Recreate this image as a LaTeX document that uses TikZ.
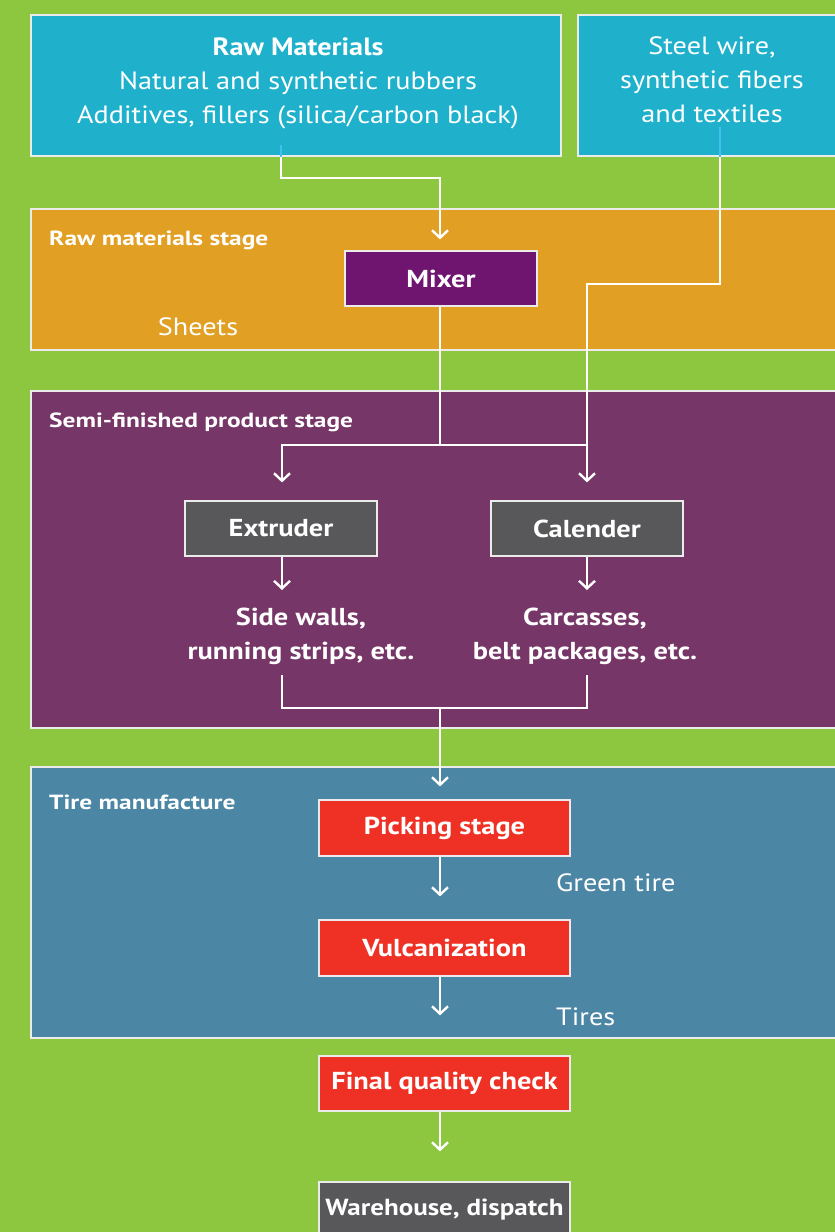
\documentclass[tikz,border=0pt]{standalone}
\usepackage{fontspec}
\setmainfont{PT Sans}[FakeStretch=1.13]
\newfontfamily\boxfont{PT Sans}[FakeStretch=1.16]
\newfontfamily\bandfont{PT Sans}[FakeStretch=1.24]
\usetikzlibrary{arrows.meta,calc}
\definecolor{bggreen}{RGB}{141,198,63}
\definecolor{cyanbox}{RGB}{31,177,204}
\definecolor{orangeband}{RGB}{225,160,35}
\definecolor{mixerpurple}{RGB}{111,21,112}
\definecolor{semipurple}{RGB}{118,54,103}
\definecolor{greybox}{RGB}{88,88,90}
\definecolor{blueband}{RGB}{75,134,165}
\definecolor{redbox}{RGB}{238,49,36}
\definecolor{lightblue}{RGB}{64,192,240}
\definecolor{edge}{RGB}{235,235,235}
\tikzset{
  band/.style={draw=edge, line width=1.2pt, minimum width=818pt, inner sep=0pt},
  source/.style={draw=edge, line width=1.2pt, fill=cyanbox, minimum height=141pt, inner sep=0pt},
  sourcetext/.style={text=white, inner sep=0pt, align=center, font=\fontsize{25}{34}\selectfont},
  machine/.style={draw=edge, line width=1.2pt, text=white, inner sep=0pt,
    font=\boxfont\bfseries\fontsize{24.5}{30}\selectfont},
  bandlabel/.style={text=white, anchor=west, inner sep=0pt, font=\bandfont\bfseries\fontsize{20.5}{24}\selectfont},
  plainlabel/.style={text=white, inner sep=0pt, font=\fontsize{25}{32}\selectfont},
  prodlabel/.style={text=white, inner sep=0pt, align=center, font=\boxfont\bfseries\fontsize{24.5}{34}\selectfont},
  link/.style={draw=white, line width=2.4pt},
  arr/.style={link, -{Straight Barb[length=7.5pt,width=16pt]}},
  bluelink/.style={draw=lightblue, line width=2.4pt}
}
\begin{document}
\begin{tikzpicture}[x=1pt,y=-1pt]
\useasboundingbox (0,0) rectangle (835,1232);
\fill[bggreen] (0,0) rectangle (835,1232);
% top source boxes
\node[source, minimum width=530pt] (raw) at (296,85.5) {};
\node[sourcetext] (rawtext) at (298,83)
  {\textbf{Raw Materials}\\Natural and synthetic rubbers\\Additives, fillers (silica/carbon black)};
\node[source, minimum width=268pt] (steel) at (712,85.5) {};
\node[sourcetext] (steeltext) at (712,80) {Steel wire,\\synthetic fibers\\and textiles};
% bands
\node[band, fill=orangeband, minimum height=141pt] (stage1) at (440,279.5) {};
\node[band, fill=semipurple, minimum height=337pt] (stage2) at (440,559.5) {};
\node[band, fill=blueband, minimum height=271pt] (stage3) at (440,902.5) {};
\node[bandlabel] (l1) at (49,240) {Raw materials stage};
\node[bandlabel] (l2) at (49,422) {Semi-finished product stage};
\node[bandlabel] (l3) at (49,802) {Tire manufacture};
% machines
\node[machine, fill=mixerpurple, minimum width=192pt, minimum height=55pt] (mixer) at (441,278.5) {Mixer};
\node[machine, fill=greybox, minimum width=192pt, minimum height=55pt] (extruder) at (281,528.5) {Extruder};
\node[machine, fill=greybox, minimum width=192pt, minimum height=55pt] (calender) at (587,528.5) {Calender};
\node[machine, fill=redbox, minimum width=251pt, minimum height=56pt] (picking) at (444.5,828) {Picking stage};
\node[machine, fill=redbox, minimum width=251pt, minimum height=56pt] (vulcan) at (444.5,948) {Vulcanization};
\node[machine, fill=redbox, minimum width=251pt, minimum height=55pt] (final) at (444.5,1083.5) {Final quality check};
\node[machine, fill=greybox, minimum width=251pt, minimum height=55pt,
  font=\boxfont\bfseries\fontsize{23.3}{30}\selectfont] (ware) at (444.5,1209.5) {Warehouse, dispatch};
% labels
\node[plainlabel] (sheets) at (198,327) {Sheets};
\node[prodlabel] (side) at (301,636) {Side walls,\\running strips, etc.};
\node[prodlabel] (carc) at (585,636) {Carcasses,\\belt packages, etc.};
\node[plainlabel, anchor=west] (green) at (556,883) {Green tire};
\node[plainlabel, anchor=west] (tires) at (556,1017) {Tires};
% connector coordinates
\coordinate (ax) at (440,0);
\coordinate (r1) at (281,145);
\coordinate (j1) at (440,178);
\coordinate (s1) at (720,127);
\coordinate (j3) at (587,284);
\coordinate (j2) at (440,445);
\coordinate (e1) at (282,590);
\coordinate (c1) at (587,590);
\coordinate (b1) at (282,675);
\coordinate (b2) at (587,675);
\coordinate (bm) at (440,708);
% connectors
\draw[bluelink] (r1) -- (r1 |- raw.south);
\draw[arr, shorten >=11pt] (r1 |- raw.south) |- (j1) -- (mixer.north -| ax);
\draw[bluelink] (s1) -- (s1 |- steel.south);
\draw[arr, shorten >=18pt] (s1 |- steel.south) |- (j3) -- (calender.north);
\draw[link] (mixer.south -| ax) -- (j2) -- (j2 -| calender.north);
\draw[arr, shorten >=18pt] (j2) -| (extruder.north -| e1);
\draw[arr] (extruder.south -| e1) -- (e1);
\draw[arr] (calender.south) -- (c1);
\draw[link] (b1) |- (b2 |- bm) -- (b2);
\draw[arr, shorten >=13pt] (bm) -- (picking.north -| ax);
\draw[arr, shorten >=23pt] (picking.south -| ax) -- (vulcan.north -| ax);
\draw[arr, shorten >=40pt] (vulcan.south -| ax) -- (final.north -| ax);
\draw[arr, shorten >=30pt] (final.south -| ax) -- (ware.north -| ax);
\end{tikzpicture}
\end{document}
